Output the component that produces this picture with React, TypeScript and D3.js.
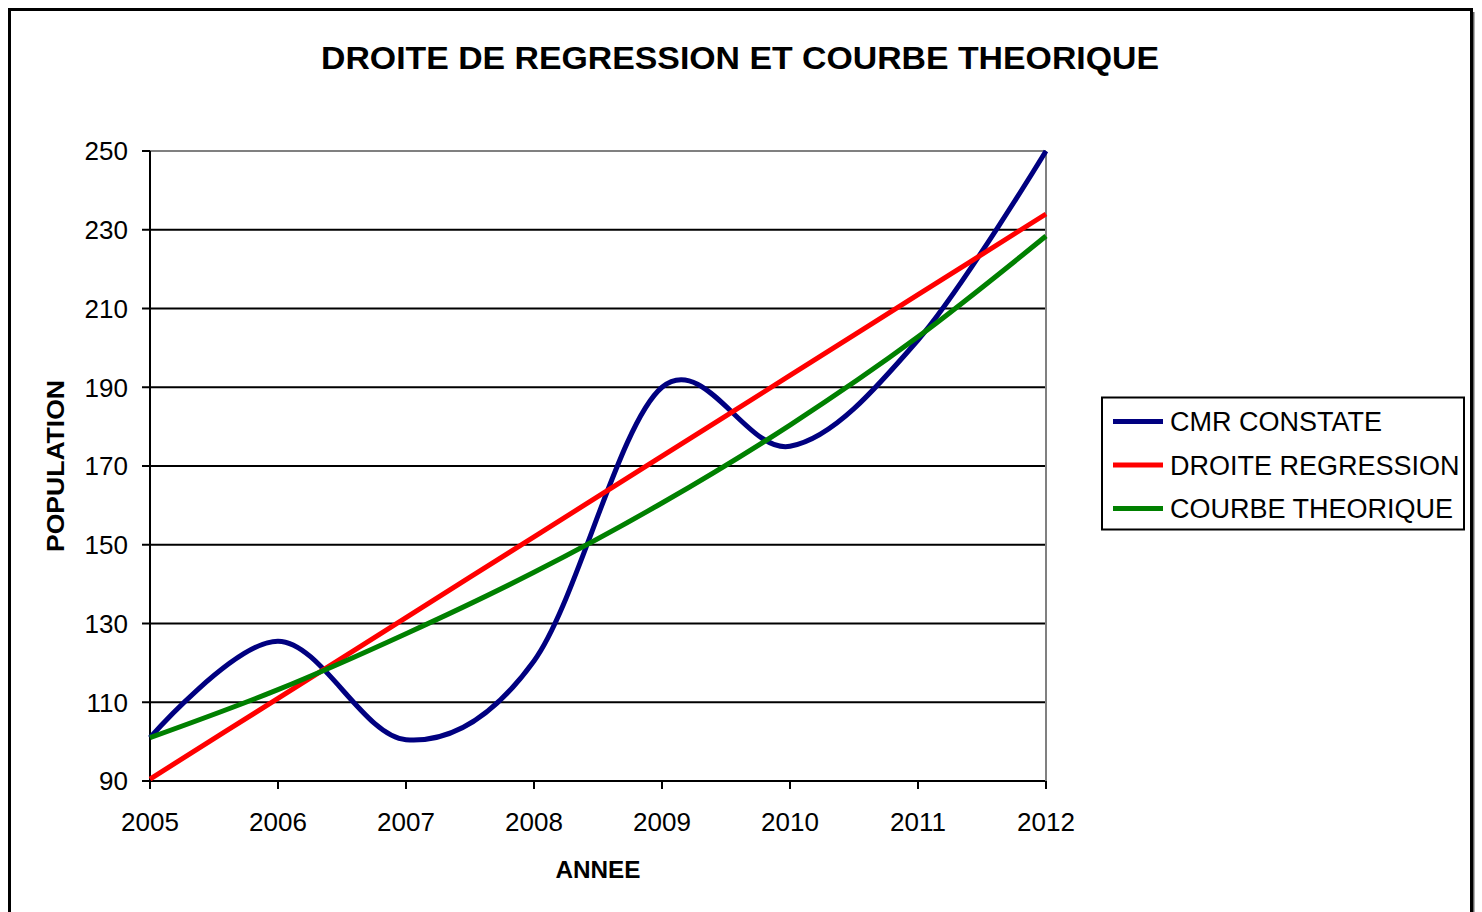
import { useMemo } from 'react';
import * as d3 from 'd3';

const YEARS = [2005, 2006, 2007, 2008, 2009, 2010, 2011, 2012];
const CMR_CONSTATE = [101, 125.5, 100.5, 120.5, 190, 175, 202, 250];
const DROITE_REGRESSION = [90.5, 111, 131.5, 152, 172.5, 193, 213.5, 234];
const COURBE_THEORIQUE = [101, 113.2, 127.4, 143, 160.6, 180.4, 202.8, 228.4];
const Y_TICKS = [90, 110, 130, 150, 170, 190, 210, 230, 250];

const SERIES = [
  { name: 'CMR CONSTATE', values: CMR_CONSTATE, color: '#000080' },
  { name: 'DROITE REGRESSION', values: DROITE_REGRESSION, color: '#ff0000' },
  { name: 'COURBE THEORIQUE', values: COURBE_THEORIQUE, color: '#008000' },
];

const W = 1482;
const H = 912;
const PL = { left: 150, right: 1046, top: 151, bottom: 781 };
const FONT = 'Arial, "Liberation Sans", Helvetica, sans-serif';

export default function App() {
  const x = useMemo(() => d3.scaleLinear().domain([2005, 2012]).range([PL.left, PL.right]), []);
  const y = useMemo(() => d3.scaleLinear().domain([90, 250]).range([PL.bottom, PL.top]), []);

  // Excel-style smoothed line (uniform Catmull-Rom)
  const line = d3
    .line<number>()
    .x((_, i) => x(YEARS[i]))
    .y((d) => y(d))
    .curve(d3.curveCardinal.tension(0));

  return (
    <svg
      width={W}
      height={H}
      style={{ position: 'absolute', left: 0, top: 0, background: '#fff' }}
      fontFamily={FONT}
    >
      {/* outer chart frame */}
      <rect x={9.5} y={9.5} width={1462} height={940} fill="#fff" stroke="#000" strokeWidth={3} />
      <line x1={1473.5} y1={12} x2={1473.5} y2={H} stroke="#000" strokeWidth={2} opacity={0.6} />

      <text
        x={740}
        y={69}
        textAnchor="middle"
        fontSize={31}
        fontWeight="bold"
        textLength={838}
        lengthAdjust="spacingAndGlyphs"
      >
        DROITE DE REGRESSION ET COURBE THEORIQUE
      </text>

      {/* gridlines */}
      {Y_TICKS.map((t) => (
        <line
          key={t}
          x1={PL.left}
          x2={PL.right}
          y1={y(t)}
          y2={y(t)}
          stroke={t === 250 ? '#808080' : '#000'}
          strokeWidth={2}
        />
      ))}
      <line x1={PL.right} x2={PL.right} y1={PL.top} y2={PL.bottom} stroke="#808080" strokeWidth={2} />

      {/* axes */}
      <line x1={PL.left} x2={PL.left} y1={PL.top} y2={PL.bottom + 7} stroke="#000" strokeWidth={2} />
      {Y_TICKS.map((t) => (
        <g key={t}>
          <line x1={PL.left - 8} x2={PL.left} y1={y(t)} y2={y(t)} stroke="#000" strokeWidth={2} />
          <text x={128} y={y(t)} dy="0.36em" textAnchor="end" fontSize={26}>
            {t}
          </text>
        </g>
      ))}
      {YEARS.map((yr) => (
        <g key={yr}>
          <line x1={x(yr)} x2={x(yr)} y1={PL.bottom} y2={PL.bottom + 8} stroke="#000" strokeWidth={2} />
          <text x={x(yr)} y={831} textAnchor="middle" fontSize={26}>
            {yr}
          </text>
        </g>
      ))}

      <text x={598} y={878} textAnchor="middle" fontSize={24} fontWeight="bold" textLength={85} lengthAdjust="spacingAndGlyphs">
        ANNEE
      </text>
      <text
        transform={`translate(64,${(PL.top + PL.bottom) / 2}) rotate(-90)`}
        textAnchor="middle"
        fontSize={24}
        fontWeight="bold"
        textLength={172}
        lengthAdjust="spacingAndGlyphs"
      >
        POPULATION
      </text>

      {/* series */}
      {SERIES.map((s) => (
        <path
          key={s.name}
          d={line(s.values) ?? ''}
          fill="none"
          stroke={s.color}
          strokeWidth={5}
          strokeLinejoin="round"
        />
      ))}

      {/* legend */}
      <rect x={1102} y={397.5} width={362} height={132} fill="#fff" stroke="#000" strokeWidth={2} />
      {SERIES.map((s, i) => (
        <g key={s.name} transform={`translate(0,${421.5 + i * 43.5})`}>
          <line x1={1113} x2={1163} y1={0} y2={0} stroke={s.color} strokeWidth={5} />
          <text x={1170} y={0} dy="0.36em" fontSize={27}>
            {s.name}
          </text>
        </g>
      ))}
    </svg>
  );
}
